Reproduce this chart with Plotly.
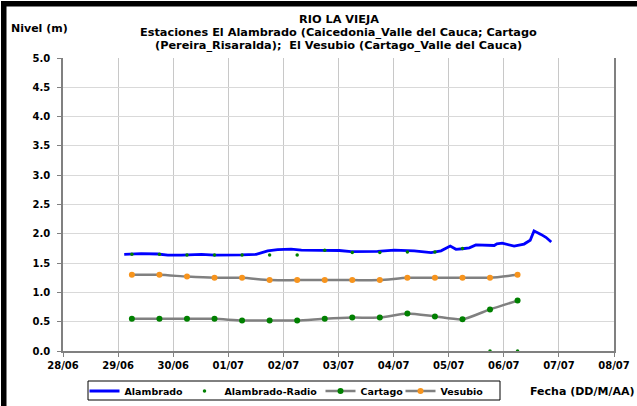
"""Niveles Rio La Vieja - estaciones El Alambrado, Cartago y El Vesubio."""

import plotly.graph_objects as go

FONT = "DejaVu Sans, Liberation Sans, Arial, sans-serif"
AZUL = "#0000FF"
VERDE = "#008000"
NARANJA = "#F7941D"
GRIS = "#808080"

# Alambrado (serie continua)
alambrado_fecha = [
    "2011-06-29 02:40", "2011-06-29 10:00", "2011-06-29 17:20", "2011-06-29 21:40",
    "2011-06-30 03:40", "2011-06-30 12:20", "2011-06-30 18:00", "2011-07-01 00:40",
    "2011-07-01 05:40", "2011-07-01 12:10", "2011-07-01 17:10", "2011-07-01 21:30",
    "2011-07-02 03:20", "2011-07-02 07:50", "2011-07-02 16:30", "2011-07-02 20:50",
    "2011-07-03 00:20", "2011-07-03 05:30", "2011-07-03 17:00", "2011-07-04 00:20",
    "2011-07-04 09:00", "2011-07-04 16:20", "2011-07-04 20:40", "2011-07-05 00:40",
    "2011-07-05 03:10", "2011-07-05 06:00", "2011-07-05 09:00", "2011-07-05 11:50",
    "2011-07-05 19:50", "2011-07-05 21:00", "2011-07-05 23:20", "2011-07-06 04:30",
    "2011-07-06 08:50", "2011-07-06 11:30", "2011-07-06 13:10", "2011-07-06 16:10",
    "2011-07-06 18:20", "2011-07-06 20:40",
]
alambrado_nivel = [
    1.65, 1.66, 1.655, 1.635,
    1.635, 1.65, 1.635, 1.635,
    1.64, 1.65, 1.71, 1.73,
    1.74, 1.72, 1.72, 1.71,
    1.715, 1.695, 1.70, 1.72,
    1.71, 1.68, 1.71, 1.79,
    1.735, 1.745, 1.76, 1.81,
    1.80, 1.83, 1.84, 1.79,
    1.825, 1.89, 2.05, 1.99,
    1.94, 1.86,
]

# lecturas cada 12 horas
lectura_fecha = [
    "2011-06-29 06:00", "2011-06-29 18:00", "2011-06-30 06:00", "2011-06-30 18:00",
    "2011-07-01 06:00", "2011-07-01 18:00", "2011-07-02 06:00", "2011-07-02 18:00",
    "2011-07-03 06:00", "2011-07-03 18:00", "2011-07-04 06:00", "2011-07-04 18:00",
    "2011-07-05 06:00", "2011-07-05 18:00", "2011-07-06 06:00",
]
radio_nivel = [1.65, 1.65, 1.64, 1.64, 1.64, 1.64, 1.64, 1.72, 1.68, 1.68, 1.69, 1.69, 1.75, 0.0, 0.0]
cartago_nivel = [0.55, 0.55, 0.55, 0.55, 0.52, 0.52, 0.52, 0.55, 0.57, 0.57, 0.64, 0.59, 0.54, 0.71, 0.86]
vesubio_nivel = [1.30, 1.30, 1.27, 1.25, 1.25, 1.21, 1.21, 1.21, 1.21, 1.21, 1.25, 1.25, 1.25, 1.25, 1.30]

titulo = [
    "RIO LA VIEJA",
    "Estaciones El Alambrado (Caicedonia_Valle del Cauca; Cartago",
    "(Pereira_Risaralda);  El Vesubio (Cartago_Valle del Cauca)",
]

fig = go.Figure()
fig.add_trace(
    go.Scatter(
        x=alambrado_fecha, y=alambrado_nivel, name="Alambrado",
        mode="lines", line=dict(color=AZUL, width=2.8), legendwidth=55,
    )
)
fig.add_trace(
    go.Scatter(
        x=lectura_fecha, y=radio_nivel, name="Alambrado-Radio",
        mode="markers", marker=dict(color=VERDE, size=3.5), cliponaxis=False,
        legendwidth=91,
    )
)
fig.add_trace(
    go.Scatter(
        x=lectura_fecha, y=cartago_nivel, name="Cartago",
        mode="lines+markers", line=dict(color=GRIS, width=2.5, shape="spline", smoothing=0.6),
        marker=dict(color=VERDE, size=6), legendwidth=35,
    )
)
fig.add_trace(
    go.Scatter(
        x=lectura_fecha, y=vesubio_nivel, name="Vesubio",
        mode="lines+markers", line=dict(color=GRIS, width=2.5, shape="spline", smoothing=0.6),
        marker=dict(color=NARANJA, size=6),
    )
)


# posiciones de pantalla (px) -> coordenadas paper (area de trazado 63..614 x 58..351)
def px_x(p):
    return (p - 63) / 551


def px_y(p):
    return (351 - p) / 293


tick_font = dict(family=FONT, size=10, color="black", weight="bold")
bold = dict(family=FONT, size=11, color="black", weight="bold")

notas = []
for linea, yp in zip(titulo, [19, 32, 45]):
    notas.append(
        dict(
            text=linea, xref="paper", yref="paper",
            x=0.5, y=px_y(yp), xanchor="center", yanchor="middle",
            showarrow=False, font=dict(family=FONT, size=11.3, color="black", weight="bold"),
        )
    )
notas.append(
    dict(
        text="Nivel (m)", xref="paper", yref="paper", x=px_x(9), y=px_y(28),
        xanchor="left", yanchor="middle", showarrow=False, font=bold,
    )
)
notas.append(
    dict(
        text="Fecha (DD/M/AA)", xref="paper", yref="paper", x=px_x(636), y=px_y(391),
        xanchor="right", yanchor="middle", showarrow=False, font=bold,
    )
)

fig.update_layout(
    width=637,
    height=406,
    margin=dict(l=63, r=23, t=58, b=55, autoexpand=False),
    plot_bgcolor="white",
    paper_bgcolor="white",
    font=bold,
    showlegend=True,
    legend=dict(
        orientation="h",
        x=px_x(84.5), xanchor="left",
        y=px_y(391), yanchor="middle",
        borderwidth=0,
        bgcolor="rgba(0,0,0,0)",
        font=dict(family=FONT, size=9.5, color="black", weight="bold"),
        itemwidth=30,
        tracegroupgap=0,
    ),
    xaxis=dict(
        type="date",
        range=["2011-06-28", "2011-07-08"],
        dtick=86400000,
        tick0="2011-06-28",
        tickformat="%d/%m",
        tickfont=tick_font,
        showgrid=True, gridcolor="#C8C8C8", gridwidth=1,
        showline=True, linecolor=GRIS, linewidth=1.5,
        ticks="outside", ticklen=4, tickcolor=GRIS,
        zeroline=False,
    ),
    yaxis=dict(
        range=[0, 5],
        dtick=0.5,
        tickformat=".1f",
        tickfont=tick_font,
        ticklabelstandoff=5,
        showgrid=True, gridcolor="#D9D9D9", gridwidth=1,
        showline=True, linecolor=GRIS, linewidth=1.5, mirror=True,
        ticks="outside", ticklen=4, tickcolor=GRIS,
        zeroline=False,
    ),
    annotations=notas,
    shapes=[
        # recuadro de la leyenda
        dict(type="rect", xref="paper", yref="paper", x0=px_x(88), x1=px_x(500),
             y0=px_y(400), y1=px_y(381),
             fillcolor="rgba(0,0,0,0)", line=dict(color="black", width=1)),
        # marco negro superior e izquierdo
        dict(type="rect", xref="paper", yref="paper", x0=px_x(1), x1=px_x(637),
             y0=px_y(6.5), y1=px_y(1),
             fillcolor="black", line=dict(width=0), layer="above"),
        dict(type="rect", xref="paper", yref="paper", x0=px_x(1), x1=px_x(6.5),
             y0=px_y(406), y1=px_y(1),
             fillcolor="black", line=dict(width=0), layer="above"),
    ],
)

fig.write_html(
    "out.html",
    config={"displayModeBar": False},
    post_script="document.body.style.margin='0';",
)
